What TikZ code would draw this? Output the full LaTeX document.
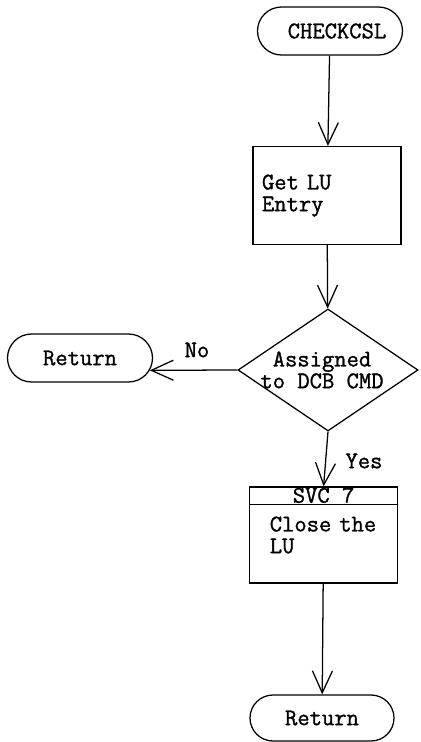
\documentclass[tikz,border=0pt]{standalone}
\usepackage{fontspec}
\newfontfamily\csltt[FakeBold=1.2]{Latin Modern Mono}
\usetikzlibrary{arrows.meta,shapes.geometric,shapes.misc}
\begin{document}
\begin{tikzpicture}[
  cslterm/.style = {draw, rounded rectangle, line width=0.9pt, minimum width=3.625cm, minimum height=1.2cm, inner sep=0pt},
  cslbox/.style = {draw, rectangle, line width=0.9pt, minimum width=3.7cm, minimum height=2.45cm, inner sep=0.225cm, text width=3.25cm, align=left},
  csldec/.style = {draw, diamond, line width=0.9pt, minimum width=4.5cm, minimum height=3.05cm, inner sep=0pt},
  cslflow/.style = {line width=0.9pt, -{Straight Barb[length=5.5mm, width=5mm, line width=0.9pt]}},
  csllbl/.style = {font=\csltt\fontsize{17}{15.5}\selectfont, inner sep=0pt}
]
  \useasboundingbox (0,0) rectangle (10.5,-18.55);
  % Anfang
  \node[cslterm, csllbl] (start) at (8.25,-0.775) {\hspace{0.35cm}CHECKCSL};
  \node[cslbox, csllbl, inner sep=0.225cm] (getlu) at (8.175,-4.89) {Get LU\\Entry};
  % Entscheidung
  \node[csldec] (dia) at (8.2,-9.25) {};
  \node[csllbl, align=center] (diatxt) at (8.05,-9.25) {Assigned\\to DCB CMD};
  \node[cslterm, csllbl] (ret1) at (2.0,-8.95) {Return\hspace{0.3cm}};
  % SVC 7
  \node[cslbox, csllbl, inner sep=0.225cm, minimum width=3.675cm, minimum height=2.4cm] (svc) at (8.09,-13.375)
    {\hspace*{0.28cm}Close the\\\hspace*{0.28cm}LU};
  \draw[line width=0.9pt] ([yshift=-0.45cm]svc.north west) -- ([yshift=-0.45cm]svc.north east);
  \node[csllbl] (svclbl) at ([yshift=-0.225cm]svc.north) {SVC 7};
  \node[cslterm, csllbl, minimum width=3.6cm, minimum height=1.15cm] (ret2) at (8.05,-17.95) {Return};
  % Pfeile
  \draw[cslflow] (start) -- (getlu);
  \draw[cslflow] (getlu) -- (dia);
  \draw[cslflow] (dia.west) -- (ret1.-10);
  \draw[cslflow] (dia.south) -- (svc.north);
  \draw[cslflow] (svc) -- (ret2);
  % Beschriftung
  \node[csllbl] (nolbl) at (4.925,-8.75) {No};
  \node[csllbl] (yeslbl) at (9.1,-11.525) {Yes};
\end{tikzpicture}
\end{document}
